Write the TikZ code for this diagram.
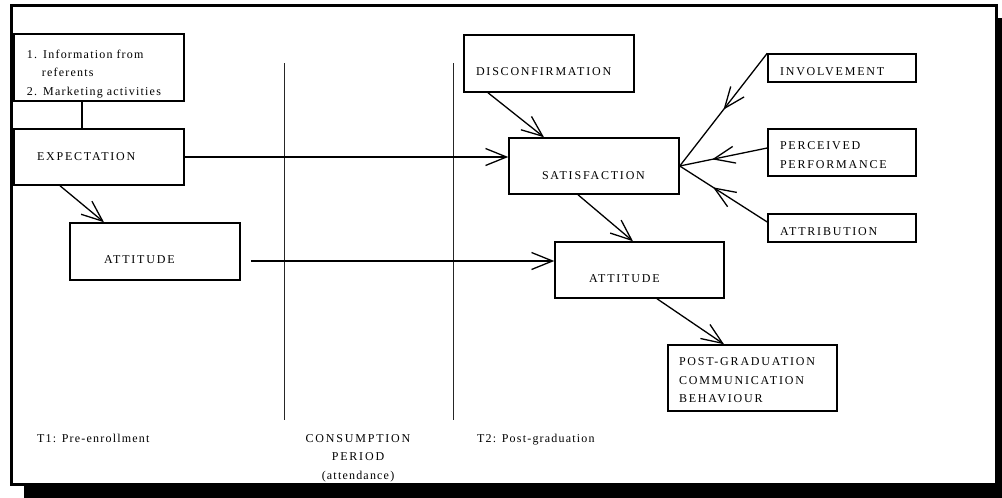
\documentclass[tikz,border=0pt]{standalone}
\usepackage{fontspec}
\setmainfont{Liberation Serif}
\newfontfamily\capsfont[LetterSpace=15]{Liberation Serif}
\newfontfamily\plainfont[LetterSpace=10]{Liberation Serif}
\usetikzlibrary{arrows.meta, decorations.markings}

\tikzset{
  box/.style={draw, rectangle, line width=1.5pt, inner ysep=0pt, align=left,
    font=\capsfont\fontsize{12}{18.5}\selectfont},
  conn/.style={line width=1.3pt, -{Straight Barb[length=21pt, width=17pt]}},
  midarrow/.style={line width=1.3pt, postaction={decorate, decoration={markings,
    mark=at position #1 with {\arrow{Straight Barb[length=21pt, width=17pt]}}}}},
  divider/.style={line width=0.9pt, black!85},
  phase/.style={inner sep=0pt, font=\plainfont\fontsize{12}{18.5}\selectfont}
}

\begin{document}
\begin{tikzpicture}[x=1pt, y=-1pt]
\useasboundingbox (0,0) rectangle (1002,498);

% 阴影和外框
\fill (24,18) rectangle (1002,498);
\draw[line width=3pt, fill=white] (11.5,5.5) rectangle (996.5,484.5);

% 分隔线
\draw[divider] (284,63) -- (284,420);
\draw[divider] (453,63) -- (453,420);

% T1 方框
\node[box, minimum width=170pt, minimum height=67pt, inner xsep=13pt, text width=144pt,
  text height=21pt, font=\plainfont\fontsize{12}{18.5}\selectfont] (info) at (99,67.5)
  {1. Information from\\\hspace*{15pt}referents\\2. Marketing activities};
\node[box, minimum width=170pt, minimum height=56pt, inner xsep=23pt, text width=124pt,
  text height=6pt, text depth=0pt] (exp) at (99,157) {EXPECTATION};
\node[box, minimum width=170pt, minimum height=57pt, inner xsep=34pt, text width=102pt,
  text height=23pt, text depth=0pt] (att1) at (155,251.5) {ATTITUDE};

% T2 方框
\node[box, minimum width=170pt, minimum height=57pt, inner xsep=12pt, text width=146pt,
  text height=23pt, text depth=0pt] (disc) at (549,63.5) {DISCONFIRMATION};
\node[box, minimum width=170pt, minimum height=56pt, inner xsep=33pt, text width=104pt,
  text height=26pt, text depth=0pt] (sat) at (594,166) {SATISFACTION};
\node[box, minimum width=169pt, minimum height=56pt, inner xsep=34pt, text width=101pt,
  text height=24pt, text depth=0pt] (att2) at (639.5,270) {ATTITUDE};
\node[box, minimum width=169pt, minimum height=66pt, inner xsep=11pt, text width=147pt,
  text height=13pt] (post) at (752.5,378) {POST-GRADUATION\\COMMUNICATION\\BEHAVIOUR};

% 右侧因素
\node[box, minimum width=148pt, minimum height=28pt, inner xsep=12pt, text width=124pt,
  text height=14pt, text depth=0pt] (inv) at (842,68) {INVOLVEMENT};
\node[box, minimum width=148pt, minimum height=47pt, inner xsep=12pt, text width=124pt,
  text height=13.5pt] (perc) at (842,152.5) {PERCEIVED\\PERFORMANCE};
\node[box, minimum width=148pt, minimum height=28pt, inner xsep=12pt, text width=124pt,
  text height=14pt, text depth=0pt] (attr) at (842,228) {ATTRIBUTION};

% 阶段标签
\node[phase, anchor=base west] (t1) at (37,442) {T1: Pre-enrollment};
\node[phase, anchor=north, align=center] (period) at (358,434)
  {\capsfont CONSUMPTION\\\capsfont PERIOD\\(attendance)};
\node[phase, anchor=base west] (t2) at (477,442) {T2: Post-graduation};

% 连线
\draw[line width=1.3pt] ([xshift=-17pt]info.south) -- ([xshift=-17pt]exp.north);
\draw[conn] ([xshift=-39pt]exp.south) -- ([xshift=-51pt]att1.north);
\draw[conn] (exp.east) -- (exp.east -| sat.west);
\coordinate (a1out) at ([shift={(10pt,-9.5pt)}]att1.east);
\draw[conn] (a1out) -- (a1out -| att2.west);
\draw[conn] ([xshift=-61pt]disc.south) -- ([xshift=-50pt]sat.north);
\draw[conn] ([xshift=-16pt]sat.south) -- ([xshift=-6.5pt]att2.north);
\draw[conn] ([xshift=17.5pt]att2.south) -- ([xshift=-28.5pt]post.north);
\draw[midarrow=0.5] (inv.north west) -- (sat.east);
\draw[midarrow=0.63] ([yshift=4.5pt]perc.west) -- (sat.east);
\draw[midarrow=0.62] ([yshift=6pt]attr.west) -- (sat.east);

\end{tikzpicture}
\end{document}
